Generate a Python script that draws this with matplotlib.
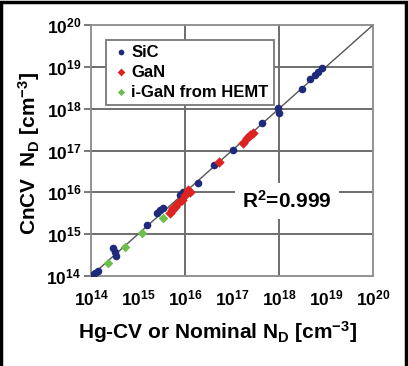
import matplotlib
matplotlib.use("Agg")
import matplotlib.pyplot as plt
from matplotlib.patches import Rectangle
from matplotlib.ticker import FixedLocator, NullFormatter

plt.rcParams['font.family'] = ['Liberation Sans', 'DejaVu Sans']
plt.rcParams['mathtext.fontset'] = 'custom'
plt.rcParams['mathtext.rm'] = 'Liberation Sans:bold'
plt.rcParams['mathtext.bf'] = 'Liberation Sans:bold'
plt.rcParams['mathtext.it'] = 'Liberation Sans:bold'

# Data (cm^-3)
sic_x = [1.05e14, 1.2e14, 1.4e14, 2.9e14, 3.2e14, 3.4e14, 1.55e15, 2.5e15, 3.0e15, 3.4e15,
         7.8e15, 9.1e15, 1.9e16, 4.2e16, 1.05e17, 4.4e17, 9.5e17, 1.0e18, 3.1e18, 4.6e18,
         5.9e18, 6.8e18, 8.1e18]
sic_y = [1.05e14, 1.2e14, 1.3e14, 4.6e14, 3.8e14, 3.0e14, 1.65e15, 3.2e15, 3.8e15, 4.3e15,
         8.7e15, 1.0e16, 1.65e16, 4.4e16, 1.02e17, 4.6e17, 1.05e18, 7.9e17, 3.0e18, 5.1e18,
         6.5e18, 7.6e18, 9.5e18]
gan_x = [4.8e15, 5.2e15, 5.5e15, 6.2e15, 7.1e15, 8.7e15, 1.0e16, 1.15e16, 1.26e16,
         5.2e16, 1.7e17, 2.1e17, 2.4e17, 2.8e17]
gan_y = [3.2e15, 3.8e15, 4.3e15, 4.5e15, 5.6e15, 6.6e15, 8.7e15, 1.15e16, 1.0e16,
         5.4e16, 1.5e17, 2.0e17, 2.35e17, 2.6e17]
igan_x = [2.3e14, 5.2e14, 1.2e15, 3.4e15]
igan_y = [2.1e14, 5.0e14, 1.07e15, 2.45e15]

tick_vals = [1e14, 1e15, 1e16, 1e17, 1e18, 1e19, 1e20]
tick_labels = [r'$10^{14}$', r'$10^{15}$', r'$10^{16}$', r'$10^{17}$',
               r'$10^{18}$', r'$10^{19}$', r'$10^{20}$']
xgrid_vals = [1e16, 1e18]
ygrid_vals = [1e15, 1e16, 1e17, 1e18, 1e19]

fig = plt.figure(figsize=(4.08, 3.66), dpi=100)
ax = fig.add_axes([91/408, 1-276/366, (373-91)/408, (276-25)/366])
ax.set_xscale('log')
ax.set_yscale('log')
ax.set_xlim(1e14, 1e20)
ax.set_ylim(1e14, 1e20)

gridc = '#6e6e6e'
for v in ygrid_vals:
    ax.axhline(v, color=gridc, lw=1.4, zorder=1)
for v in xgrid_vals:
    ax.axvline(v, color=gridc, lw=1.4, zorder=1)

ax.plot([1e14, 1e20], [1e14, 1e20], color='#555555', lw=1.0, zorder=2)

ax.scatter(sic_x, sic_y, s=30, marker='o', color='#1f2a7c', zorder=3, label='SiC', linewidths=0)
ax.scatter(gan_x, gan_y, s=28, marker='D', color='#dd2222', zorder=4, label='GaN', linewidths=0)
ax.scatter(igan_x, igan_y, s=24, marker='D', color='#6cbf4a', zorder=4, label='i-GaN from HEMT', linewidths=0)

ax.set_xticks(tick_vals)
ax.set_xticklabels(tick_labels, fontsize=12.5)
ax.set_yticks(tick_vals)
ax.set_yticklabels(tick_labels, fontsize=12.5)
ax.xaxis.set_minor_locator(FixedLocator([1e14, 1e16, 1e18, 1e20]))
ax.xaxis.set_minor_formatter(NullFormatter())
ax.yaxis.set_minor_locator(FixedLocator([]))
ax.tick_params(axis='y', which='major', direction='out', length=5, width=1.3, color=gridc, pad=2)
ax.tick_params(axis='x', which='major', direction='out', length=0, pad=9)
ax.tick_params(axis='x', which='minor', direction='out', length=5, width=1.3, color=gridc)
for s in ax.spines.values():
    s.set_color('#8a8a8a')
    s.set_linewidth(1.3)

ax.set_xlabel(r'Hg-CV or Nominal N$_\mathrm{D}$ [cm$^{-3}$]', fontsize=15, fontweight='bold')
ax.xaxis.set_label_coords(0.447, -0.17)
ax.set_ylabel(r'CnCV  N$_\mathrm{D}$ [cm$^{-3}$]', fontsize=15, fontweight='bold')
ax.yaxis.set_label_coords(-0.175, 0.49)

leg = ax.legend(loc='upper left', bbox_to_anchor=(0.025, 0.975), prop={'weight': 'bold', 'size': 12},
                fancybox=False, framealpha=1, edgecolor='#777777', handletextpad=0.1,
                borderpad=0.3, labelspacing=0.3, handlelength=1.1, markerscale=0.75)
leg.get_frame().set_linewidth(1.3)

ax.text(0.695, 0.30, r'R$^{2}$=0.999', transform=ax.transAxes, fontsize=15, fontweight='bold',
        ha='center', va='center', zorder=5,
        bbox=dict(facecolor='white', edgecolor='none', pad=5))

# figure frame
fig.add_artist(Rectangle((0.002, -0.01), 0.993, 1.005, transform=fig.transFigure,
                         fill=False, edgecolor='black', lw=2.5))

fig.savefig('out.png', dpi=100)
